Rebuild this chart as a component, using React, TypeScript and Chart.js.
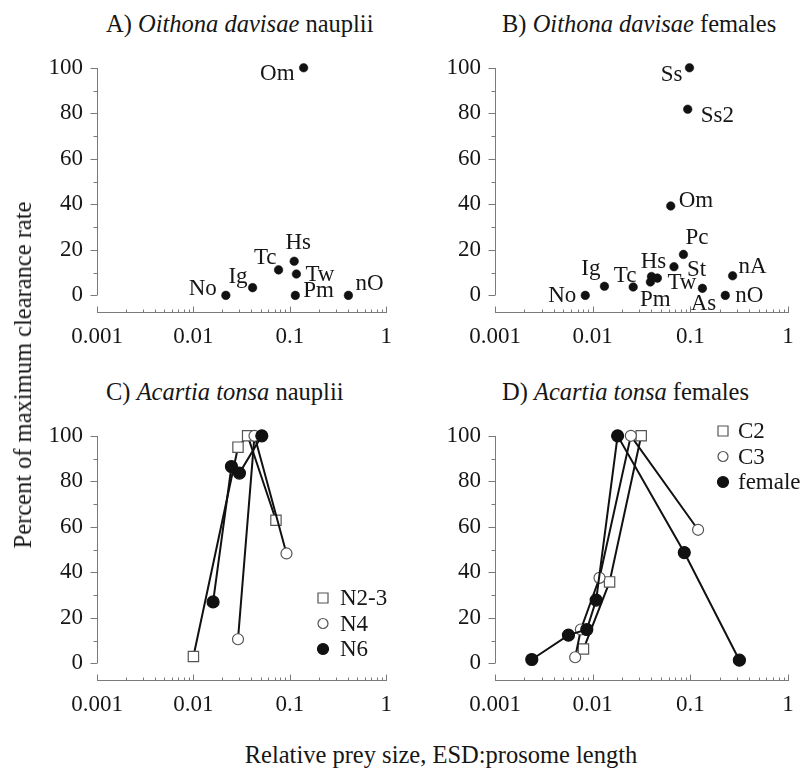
import React, { useEffect, useRef } from 'react';
import { Chart, registerables } from 'chart.js';

Chart.register(...registerables);

const FONT = "'Liberation Serif', 'Times New Roman', serif";
const TEXT = '#161616';
const AXIS = '#7a7a7a';

// Axes
const X_TICKS = [0.001, 0.01, 0.1, 1];
const X_TICK_LABELS = ['0.001', '0.01', '0.1', '1'];
const Y_TICKS = [0, 20, 40, 60, 80, 100];
const Y_MIN = -7.3;

// Panel A: Oithona davisae nauplii
const A_NAMES = ['No', 'Ig', 'Tc', 'Hs', 'Tw', 'Pm', 'Om', 'nO'];
const A_SIZE = [0.0217, 0.0411, 0.0764, 0.111, 0.117, 0.114, 0.139, 0.405];
const A_RATE = [0, 3.4, 11.2, 15, 9.4, 0, 100, 0];

// Panel B: Oithona davisae females
const B_NAMES = ['No', 'Ig', 'Tc', 'Pm', 'Hs', 'Tw', 'St', 'Om', 'Pc', 'Ss2', 'Ss', 'As', 'nO', 'nA'];
const B_SIZE = [0.0084, 0.0132, 0.026, 0.039, 0.04, 0.046, 0.068, 0.063, 0.085, 0.094, 0.098, 0.133, 0.228, 0.271];
const B_RATE = [0, 4.0, 3.7, 5.9, 8.3, 7.6, 12.6, 39.3, 18, 81.8, 100, 3.1, 0, 8.6];

// Panel C: Acartia tonsa nauplii
const C_SERIES = ['N2-3', 'N4', 'N6'];
const C_N23_SIZE = [0.01, 0.029, 0.0365, 0.0718];
const C_N23_RATE = [3, 95, 100, 62.9];
const C_N4_SIZE = [0.029, 0.043, 0.0923];
const C_N4_RATE = [10.6, 100, 48.3];
const C_N6_SIZE = [0.016, 0.0248, 0.03, 0.0512];
const C_N6_RATE = [27, 86.5, 83.6, 100];

// Panel D: Acartia tonsa females
const D_SERIES = ['C2', 'C3', 'female'];
const D_C2_SIZE = [0.00805, 0.0149, 0.0314];
const D_C2_RATE = [6.3, 35.8, 100];
const D_C3_SIZE = [0.00662, 0.00757, 0.01175, 0.0246, 0.12];
const D_C3_RATE = [2.7, 14.9, 37.6, 100, 58.7];
const D_F_SIZE = [0.00238, 0.00565, 0.00871, 0.01086, 0.018, 0.0867, 0.318];
const D_F_RATE = [1.7, 12.4, 14.9, 27.8, 100, 48.7, 1.4];

// label placement (style): [align, dx, dy] relative to the point
const A_PLACE: any = {
  No: ['right', -9, 0], Ig: ['right', -5, -5], Tc: ['right', -2, -6], Hs: ['center', 4, -12],
  Tw: ['left', 9, 7], Pm: ['left', 8, 2], Om: ['right', -9, 12], nO: ['left', 7, -5],
};
const B_PLACE: any = {
  No: ['right', -9, 7], Ig: ['right', -4, -11], Tc: ['center', -8, -5], Pm: ['center', 5, 24],
  Hs: ['center', 2, -8], Tw: ['left', 10, 11], St: ['left', 13, 9], Om: ['left', 8, 1],
  Pc: ['left', 2, -10], Ss2: ['left', 13, 13], Ss: ['right', -7, 13], As: ['center', 1, 22],
  nO: ['left', 10, 7], nA: ['left', 6, -3],
};

const pts = (xs: number[], ys: number[]) => xs.map((x, i) => ({ x, y: ys[i] }));

const axesPlugin = {
  id: 'customAxes',
  beforeDatasetsDraw(chart: any) {
    const { ctx, chartArea, scales } = chart;
    const xs = scales.x;
    const ys = scales.y;
    ctx.save();
    ctx.strokeStyle = AXIS;
    ctx.lineWidth = 1;
    ctx.beginPath();
    const yb = Math.round(chartArea.bottom) + 0.5;
    ctx.moveTo(Math.round(xs.getPixelForValue(X_TICKS[0])), yb);
    ctx.lineTo(Math.round(xs.getPixelForValue(X_TICKS[X_TICKS.length - 1])) + 1, yb);
    for (let d = 0; d < X_TICKS.length; d++) {
      const base = X_TICKS[d];
      const last = d === X_TICKS.length - 1;
      for (let m = 1; m < (last ? 2 : 10); m++) {
        const px = Math.round(xs.getPixelForValue(base * m)) + 0.5;
        const len = m === 1 ? 6 : 3;
        ctx.moveTo(px, yb);
        ctx.lineTo(px, yb - len);
      }
    }
    const xl = Math.round(chartArea.left) + 0.5;
    ctx.moveTo(xl, Math.round(ys.getPixelForValue(0)));
    ctx.lineTo(xl, Math.round(ys.getPixelForValue(100)));
    for (let v = 0; v <= 100; v += 10) {
      const py = Math.round(ys.getPixelForValue(v)) + 0.5;
      const len = v % 20 === 0 ? 7 : 4;
      ctx.moveTo(xl, py);
      ctx.lineTo(xl - len, py);
    }
    ctx.stroke();
    ctx.restore();
  },
};

const namesPlugin = {
  id: 'pointNames',
  afterDatasetsDraw(chart: any, _args: any, opts: any) {
    if (!opts || !opts.names) return;
    const { ctx } = chart;
    const meta = chart.getDatasetMeta(0);
    ctx.save();
    ctx.font = `23px ${FONT}`;
    ctx.fillStyle = TEXT;
    ctx.textBaseline = 'alphabetic';
    meta.data.forEach((el: any, i: number) => {
      const name = opts.names[i];
      const p = opts.place[name] || ['left', 6, 0];
      ctx.textAlign = p[0];
      ctx.fillText(name, el.x + p[1], el.y + p[2]);
    });
    ctx.restore();
  },
};

const legendPlugin = {
  id: 'customLegend',
  afterDraw(chart: any, _args: any, opts: any) {
    if (!opts || !opts.show) return;
    const { ctx } = chart;
    ctx.save();
    ctx.font = `23px ${FONT}`;
    ctx.textBaseline = 'middle';
    ctx.textAlign = 'left';
    chart.data.datasets.forEach((ds: any, i: number) => {
      const cy = opts.y + i * opts.rowH;
      const cx = opts.x;
      ctx.lineWidth = 1.2;
      ctx.strokeStyle = ds.pointBorderColor;
      ctx.fillStyle = ds.pointBackgroundColor;
      ctx.beginPath();
      if (ds.pointStyle === 'rect') {
        ctx.rect(cx - 5, cy - 5, 10, 10);
      } else {
        const r = ds.pointBackgroundColor === '#ffffff' ? 5 : 5.5;
        ctx.arc(cx, cy, r, 0, Math.PI * 2);
      }
      ctx.fill();
      ctx.stroke();
      ctx.fillStyle = TEXT;
      ctx.fillText(ds.label, opts.textX, cy + 1);
    });
    ctx.restore();
  },
};

function makeOptions(yWidth: number, padRight: number, extra: any) {
  return {
    responsive: false,
    animation: false,
    events: [],
    layout: { padding: { top: 22, right: padRight, left: 0, bottom: 0 } },
    plugins: {
      legend: { display: false },
      tooltip: { enabled: false },
      title: { display: false },
      ...extra,
    },
    scales: {
      x: {
        type: 'logarithmic',
        min: X_TICKS[0],
        max: X_TICKS[X_TICKS.length - 1],
        grid: { display: false, drawTicks: false },
        border: { display: false },
        afterBuildTicks: (s: any) => {
          s.ticks = X_TICKS.map((v) => ({ value: v }));
        },
        afterFit: (s: any) => {
          s.height = 48;
        },
        ticks: {
          autoSkip: false,
          maxRotation: 0,
          padding: 11,
          color: TEXT,
          font: { family: FONT, size: 23 },
          callback: (_v: any, i: number) => X_TICK_LABELS[i],
        },
      },
      y: {
        type: 'linear',
        min: Y_MIN,
        max: 100,
        grid: { display: false, drawTicks: false },
        border: { display: false },
        afterBuildTicks: (s: any) => {
          s.ticks = Y_TICKS.map((v) => ({ value: v }));
        },
        afterFit: (s: any) => {
          s.width = yWidth;
        },
        ticks: {
          padding: 14,
          color: TEXT,
          font: { family: FONT, size: 23 },
          callback: (v: any) => String(v),
        },
      },
    },
  };
}

const dotSet = (xs: number[], ys: number[]) => ({
  data: pts(xs, ys),
  pointRadius: 4.3,
  pointBackgroundColor: '#111111',
  pointBorderColor: '#111111',
  pointBorderWidth: 0.5,
  showLine: false,
  clip: false,
});

const lineSet = (label: string, xs: number[], ys: number[], style: string, filled: boolean, order: number) => ({
  label,
  data: pts(xs, ys),
  showLine: true,
  borderColor: '#111111',
  borderWidth: 2,
  pointStyle: style,
  pointRadius: style === 'rect' ? 7.3 : filled ? 6 : 5.5,
  pointBackgroundColor: filled ? '#111111' : '#ffffff',
  pointBorderColor: filled ? '#111111' : '#555555',
  pointBorderWidth: 1.2,
  clip: false,
  order,
});

const configA = () => ({
  type: 'scatter',
  data: { datasets: [dotSet(A_SIZE, A_RATE)] },
  options: makeOptions(97, 14, { pointNames: { names: A_NAMES, place: A_PLACE } }),
  plugins: [axesPlugin, namesPlugin],
});

const configB = () => ({
  type: 'scatter',
  data: { datasets: [dotSet(B_SIZE, B_RATE)] },
  options: makeOptions(92, 19, { pointNames: { names: B_NAMES, place: B_PLACE } }),
  plugins: [axesPlugin, namesPlugin],
});

const configC = () => ({
  type: 'scatter',
  data: {
    datasets: [
      lineSet(C_SERIES[0], C_N23_SIZE, C_N23_RATE, 'rect', false, 2),
      lineSet(C_SERIES[1], C_N4_SIZE, C_N4_RATE, 'circle', false, 1),
      lineSet(C_SERIES[2], C_N6_SIZE, C_N6_RATE, 'circle', true, 0),
    ],
  },
  options: makeOptions(97, 14, { customLegend: { show: true, x: 323, textX: 340, y: 190, rowH: 25.5 } }),
  plugins: [axesPlugin, legendPlugin],
});

const configD = () => ({
  type: 'scatter',
  data: {
    datasets: [
      lineSet(D_SERIES[0], D_C2_SIZE, D_C2_RATE, 'rect', false, 2),
      lineSet(D_SERIES[1], D_C3_SIZE, D_C3_RATE, 'circle', false, 1),
      lineSet(D_SERIES[2], D_F_SIZE, D_F_RATE, 'circle', true, 0),
    ],
  },
  options: makeOptions(92, 19, { customLegend: { show: true, x: 320, textX: 335, y: 23, rowH: 25.5 } }),
  plugins: [axesPlugin, legendPlugin],
});

function Panel(props: { left: number; top: number; width: number; height: number; config: () => any }) {
  const ref = useRef<HTMLCanvasElement | null>(null);
  useEffect(() => {
    const chart = new Chart(ref.current as HTMLCanvasElement, props.config() as any);
    return () => chart.destroy();
  }, []);
  return (
    <canvas
      ref={ref}
      width={props.width}
      height={props.height}
      style={{ position: 'absolute', left: props.left, top: props.top, width: props.width, height: props.height }}
    />
  );
}

const textStyle: any = {
  position: 'absolute',
  fontFamily: FONT,
  fontSize: 24.5,
  lineHeight: '26px',
  color: TEXT,
  whiteSpace: 'nowrap',
};

export default function App() {
  return (
    <div style={{ position: 'absolute', left: 0, top: 0, width: 807, height: 769, background: '#ffffff', overflow: 'hidden' }}>
      <Panel left={0} top={40} width={403} height={320} config={configA} />
      <Panel left={403} top={40} width={404} height={320} config={configB} />
      <Panel left={0} top={408} width={403} height={320} config={configC} />
      <Panel left={403} top={408} width={404} height={320} config={configD} />

      <div style={{ ...textStyle, left: 106, top: 11 }}>
        A) <i>Oithona davisae</i> nauplii
      </div>
      <div style={{ ...textStyle, left: 502, top: 11 }}>
        B) <i>Oithona davisae</i> females
      </div>
      <div style={{ ...textStyle, left: 106, top: 379 }}>
        C) <i>Acartia tonsa</i> nauplii
      </div>
      <div style={{ ...textStyle, left: 502, top: 379 }}>
        D) <i>Acartia tonsa</i> females
      </div>

      <div
        style={{
          ...textStyle,
          left: 23,
          top: 375,
          transform: 'translate(-50%, -50%) rotate(-90deg)',
        }}
      >
        Percent of maximum clearance rate
      </div>
      <div style={{ ...textStyle, left: 441, top: 755, transform: 'translate(-50%, -50%)' }}>
        Relative prey size, ESD:prosome length
      </div>
    </div>
  );
}
